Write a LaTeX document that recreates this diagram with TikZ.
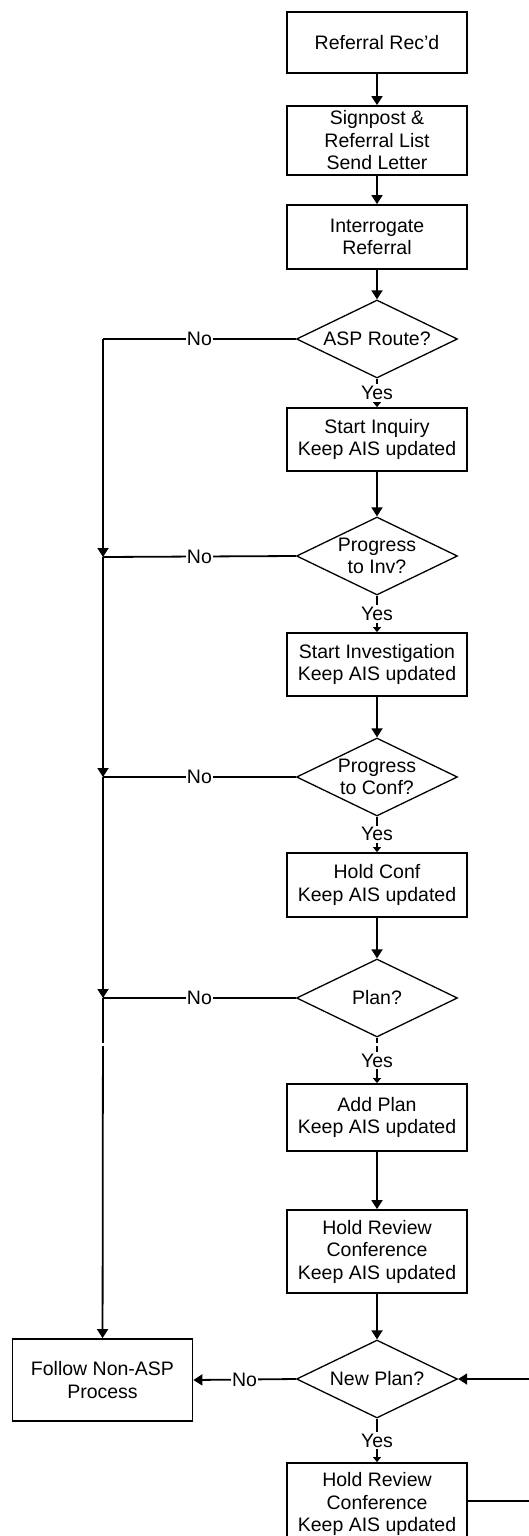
\documentclass[tikz,border=0pt]{standalone}
\usepackage{fontspec}
\setmainfont{Liberation Sans}
\usetikzlibrary{shapes.geometric,arrows.meta}
\tikzset{
  txt/.style={font=\fontsize{19.5}{22.5}\selectfont, align=center},
  stepbox/.style={draw, line width=1.8pt, minimum width=180pt, inner sep=1pt, txt},
  dia/.style={draw, shape=diamond, line width=1.3pt, minimum width=161pt, minimum height=78pt, inner sep=0pt},
  dtext/.style={txt, inner sep=0pt},
  conn/.style={line width=1.8pt},
  arr/.style={conn, -{Triangle[width=11pt,length=9pt]}},
  arrj/.style={conn, -{Triangle[width=11pt,length=9pt]}},
  arrs/.style={conn, -{Triangle[width=8pt,length=5pt]}},
  lab/.style={txt, fill=white, inner sep=1pt},
  yeslab/.style={txt, fill=white, inner xsep=1pt, inner ysep=2pt},
}
\begin{document}
\begin{tikzpicture}[x=1pt,y=-1pt]
\useasboundingbox (0,0) rectangle (529,1536);
\clip (0,0) rectangle (529,1536);
\fill[white] (0,0) rectangle (529,1536);
% boxes
\node[stepbox, minimum height=61pt] (rec) at (377,42.5) {Referral Rec'd};
\node[stepbox, minimum height=69pt] (sign) at (377,140.5) {Signpost \&\\Referral List\\Send Letter};
\node[stepbox, minimum height=64pt] (interr) at (377,237) {Interrogate\\Referral};
\node[dia, label={[dtext]center:ASP Route?}] (asp) at (377,339) {};
\node[stepbox, minimum height=63pt] (inq) at (377,439.5) {Start Inquiry\\Keep AIS updated};
\node[dia, label={[dtext]center:Progress\\to Inv?}] (inv) at (377,556) {};
\node[stepbox, minimum height=63pt] (invest) at (377,664.5) {Start Investigation\\Keep AIS updated};
\node[dia, label={[dtext]center:Progress\\to Conf?}] (conf) at (377,777) {};
\node[stepbox, minimum height=64pt] (hconf) at (377,885) {Hold Conf\\Keep AIS updated};
\node[dia, label={[dtext]center:Plan?}] (plan) at (377,998) {};
\node[stepbox, minimum height=67pt] (addp) at (377,1117.5) {Add Plan\\Keep AIS updated};
\node[stepbox, minimum height=83pt] (hrev) at (377,1251.5) {Hold Review\\Conference\\Keep AIS updated};
\node[dia, label={[dtext]center:New Plan?}] (np) at (377,1379) {};
\node[stepbox, minimum height=82pt] (nonasp) at (102.5,1380) {Follow Non-ASP\\Process};
\node[stepbox, minimum height=82pt] (hrev2) at (377,1504) {Hold Review\\Conference\\Keep AIS updated};
% junctions
\coordinate (c0) at (103,339);
\coordinate (j1) at (103,557);
\coordinate (j2) at (103,777);
\coordinate (j3) at (103,998);
\coordinate (r1) at (545,1379);
\coordinate (r2) at (545,1501);
% main flow
\draw[arr] (rec) -- (sign);
\draw[arr] (sign) -- (interr);
\draw[arr] (interr) -- (asp);
\draw[arrs] (asp) -- node[yeslab]{Yes} (inq);
\draw[arr] (inq) -- (inv);
\draw[arrs] (inv) -- node[yeslab]{Yes} (invest);
\draw[arr] (invest) -- (conf);
\draw[arrs] (conf) -- node[yeslab]{Yes} (hconf);
\draw[arr] (hconf) -- (plan);
\draw[arrs] (plan) -- node[yeslab]{Yes} (addp);
\draw[arr] (addp) -- (hrev);
\draw[arr] (hrev) -- (np);
\draw[arrs] (np) -- node[yeslab]{Yes} (hrev2);
% No branches
\draw[conn] (asp.west) -- node[lab]{No} (c0);
\draw[arrj] (c0) -- (j1);
\draw[conn] (inv.west) -- node[lab]{No} (j1);
\draw[arrj] (j1) -- (j2);
\draw[conn] (conf.west) -- node[lab]{No} (j2);
\draw[arrj] (j2) -- (j3);
\draw[conn] (plan.west) -- node[lab]{No} (j3);
\draw[arr] (j3) -- (nonasp);
\draw[arr] (np.west) -- node[lab]{No} (nonasp.east);
% loop back from right
\draw[arrj] (hrev2.east |- r2) -- (r2) -- (r1) -- (np.east);
% scan seam
\fill[white] (0,1042.5) rectangle (529,1046);
\end{tikzpicture}
\end{document}
